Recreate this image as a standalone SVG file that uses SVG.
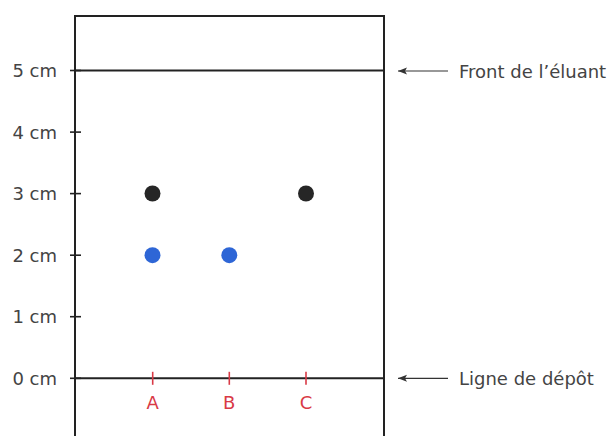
<svg xmlns="http://www.w3.org/2000/svg" width="613" height="436" viewBox="0 0 613 436">
<style>
.ln{stroke:#222;stroke-width:2;fill:none}
.tk{stroke:#222;stroke-width:1.6}
.rt{stroke:#d93a46;stroke-width:1.6}
.lb{font-family:"DejaVu Sans",sans-serif;font-size:18px;fill:#444}
.rl{font-family:"DejaVu Sans",sans-serif;font-size:18px;fill:#d93a46;text-anchor:middle}
.ar{stroke:#333;stroke-width:1.2;fill:none}
</style>
<defs>
<marker id="ah" markerWidth="10" markerHeight="8" refX="9" refY="4" orient="auto" markerUnits="userSpaceOnUse">
<path d="M0,0.5 L9,4 L0,7.5 L2,4 Z" fill="#333"/>
</marker>
</defs>
<g id="plate">
<path class="ln" d="M75,437 V16 H384 V437"/>
<line class="ln" x1="75" y1="70.5" x2="384" y2="70.5"/>
<line class="ln" x1="75" y1="378.3" x2="384" y2="378.3"/>
</g>
<g id="axis">
<line class="tk" x1="70" y1="70.5" x2="81" y2="70.5"/>
<line class="tk" x1="70" y1="132.1" x2="81" y2="132.1"/>
<line class="tk" x1="70" y1="193.6" x2="81" y2="193.6"/>
<line class="tk" x1="70" y1="255.2" x2="81" y2="255.2"/>
<line class="tk" x1="70" y1="316.7" x2="81" y2="316.7"/>
<line class="tk" x1="70" y1="378.3" x2="81" y2="378.3"/>
<text class="lb" x="57" y="77" text-anchor="end">5 cm</text>
<text class="lb" x="57" y="138.6" text-anchor="end">4 cm</text>
<text class="lb" x="57" y="200.1" text-anchor="end">3 cm</text>
<text class="lb" x="57" y="261.7" text-anchor="end">2 cm</text>
<text class="lb" x="57" y="323.2" text-anchor="end">1 cm</text>
<text class="lb" x="57" y="384.8" text-anchor="end">0 cm</text>
</g>
<g id="depots">
<line class="rt" x1="152.7" y1="371.8" x2="152.7" y2="384.8"/>
<line class="rt" x1="229.3" y1="371.8" x2="229.3" y2="384.8"/>
<line class="rt" x1="306" y1="371.8" x2="306" y2="384.8"/>
<text class="rl" x="152.7" y="408.5">A</text>
<text class="rl" x="229.3" y="408.5">B</text>
<text class="rl" x="306" y="408.5">C</text>
</g>
<g id="spots">
<circle cx="152.5" cy="193.5" r="8" fill="#262626"/>
<circle cx="306" cy="193.5" r="8" fill="#262626"/>
<circle cx="152.5" cy="255.2" r="8" fill="#2e66d6"/>
<circle cx="229.3" cy="255.2" r="8" fill="#2e66d6"/>
</g>
<g id="connectors">
<line class="ar" x1="448" y1="71" x2="398" y2="71" marker-end="url(#ah)"/>
<line class="ar" x1="448" y1="378.3" x2="398" y2="378.3" marker-end="url(#ah)"/>
</g>
<g id="labels">
<text class="lb" x="459" y="77.5">Front de l’éluant</text>
<text class="lb" x="459" y="384.8">Ligne de dépôt</text>
</g>
</svg>
